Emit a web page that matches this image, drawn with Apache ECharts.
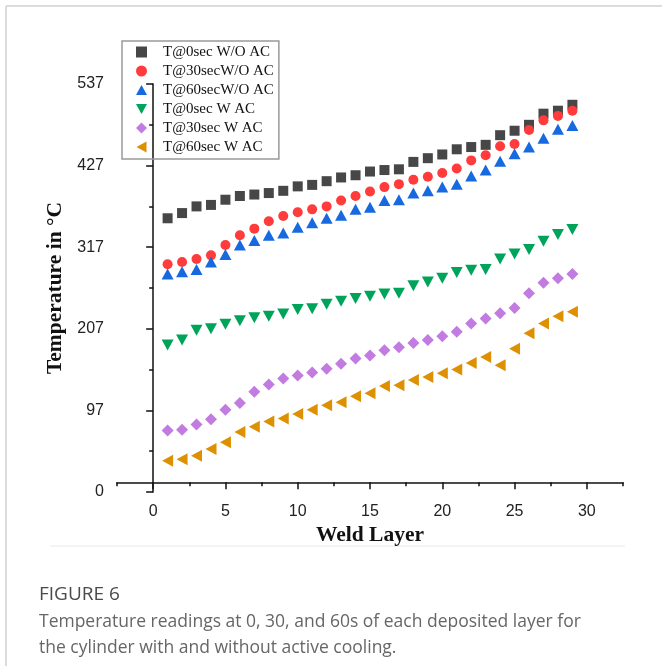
<!DOCTYPE html>
<html>
<head>
<meta charset="utf-8">
<script src="https://cdn.jsdelivr.net/npm/echarts@6/dist/echarts.min.js"></script>
<style>
  html, body { margin: 0; padding: 0; background: #fff; }
  #chart { width: 662px; height: 666px; }
</style>
</head>
<body>
<div id="chart"></div>
<script>
// weld layers on the x axis
var layers = [1, 2, 3, 4, 5, 6, 7, 8, 9, 10, 11, 12, 13, 14, 15, 16, 17, 18, 19, 20, 21, 22, 23, 24, 25, 26, 27, 28, 29]

// temperatures
var t0NoAC = [356, 363, 372, 374, 381, 386, 388, 390, 393, 399, 401, 406, 411, 414, 419, 421, 422, 432, 437, 442, 449, 452, 455, 468, 474, 482, 497, 501, 509]
var t30NoAC = [294, 297, 301, 306, 320, 333, 342, 352, 359, 364, 368, 372, 380, 386, 392, 398, 402, 408, 412, 417, 423, 434, 441, 453, 456, 475, 488, 494, 501]
var t60NoAC = [281, 284, 287, 297, 307, 320, 326, 333, 336, 344, 350, 356, 360, 368, 371, 380, 381, 390, 393, 398, 402, 413, 421, 433, 443, 452, 464, 476, 481]
var t0AC = [185, 192, 205, 207, 213, 218, 222, 224, 227, 233, 234, 240, 244, 248, 251, 254, 255, 265, 270, 275, 283, 286, 287, 301, 308, 314, 325, 334, 341]
var t30AC = [70, 71, 78, 85, 98, 107, 122, 132, 140, 144, 148, 153, 160, 167, 171, 178, 182, 188, 192, 197, 203, 214, 221, 228, 235, 255, 269, 275, 281]
var t60AC = [29, 31, 36, 45, 54, 68, 75, 82, 86, 92, 98, 104, 108, 116, 120, 130, 131, 138, 142, 147, 152, 161, 169, 158, 180, 201, 214, 224, 230]

var seriesNames = ['T@0sec W/O AC', 'T@30secW/O AC', 'T@60secW/O AC', 'T@0sec W AC', 'T@30sec W AC', 'T@60sec W AC']

// axis ticks
var xMajor = [0, 5, 10, 15, 20, 25, 30]
var xMinor = [-2.5, 2.5, 7.5, 12.5, 17.5, 22.5, 27.5, 32.5]
var yMajor = [-13, 97, 207, 317, 427, 537]
var yTickLabels = ['0', '97', '207', '317', '427', '537']
var yMinor = [42, 152, 262, 372, 482]

var chart = echarts.init(document.getElementById('chart'))

var symbols = ['rect', 'circle', 'triangle', 'triangle', 'diamond', 'triangle']
var symbolSizes = [10, 10, [12, 11], [12, 11], [12, 12], [12, 11]]
var rotates = [0, 0, 0, 180, 0, 90]
var colors = ['#474747', '#FF3B3B', '#1769E0', '#00A35A', '#C27BE0', '#DD9000']
var dataArr = [t0NoAC, t30NoAC, t60NoAC, t0AC, t30AC, t60AC]
// legend icons as paths so they keep their aspect and turn like the marks
var legendIcons = [
  'path://M0,0L10,0L10,10L0,10Z',
  'circle',
  'path://M0,10L5.5,0L11,10Z',
  'path://M0,0L11,0L5.5,10Z',
  'path://M5.5,0L11,5.5L5.5,11L0,5.5Z',
  'path://M10,0L10,11L0,5.5Z'
]

var series = []
dataArr.map(function (item, index) {
  series.push({
    name: seriesNames[index],
    type: 'scatter',
    symbol: symbols[index],
    symbolSize: symbolSizes[index],
    symbolRotate: rotates[index],
    itemStyle: { color: colors[index], opacity: 1 },
    data: layers.map(function (x, i) { return [x, item[i]] })
  })
})

var labelFont = { color: '#222', fontFamily: 'Liberation Sans', fontSize: 16 }
var axisLineStyle = { color: '#111', width: 1.5 }

var option = {
  animation: false,
  backgroundColor: '#fff',
  grid: { left: 117, right: 39, top: 84, bottom: 174, containLabel: false, outerBoundsMode: 'none' },
  legend: {
    orient: 'vertical',
    left: 122,
    top: 41,
    padding: [3, 5, 4, 14],
    itemWidth: 11,
    itemHeight: 11,
    itemGap: 3,
    symbolKeepAspect: true,
    borderColor: '#999',
    borderWidth: 1.5,
    data: seriesNames.map(function (n, i) {
      return { name: n, icon: legendIcons[i] }
    }),
    textStyle: { fontFamily: 'Liberation Serif', fontSize: 15, color: '#111', lineHeight: 16, padding: [0, 0, 0, 11] }
  },
  xAxis: [
    {
      type: 'value',
      min: -2.5,
      max: 32.5,
      name: 'Weld Layer',
      nameLocation: 'middle',
      nameGap: 30,
      nameTextStyle: { fontFamily: 'Liberation Serif', fontWeight: 'bold', fontSize: 21.5, color: '#111' },
      axisLine: { lineStyle: axisLineStyle },
      axisTick: { show: true, customValues: xMajor, length: 7, lineStyle: { color: '#111', width: 1.5 } },
      axisLabel: Object.assign({ customValues: xMajor, margin: 12 }, labelFont),
      splitLine: { show: false }
    },
    {
      type: 'value',
      position: 'bottom',
      min: -2.5,
      max: 32.5,
      axisLine: { show: false },
      axisTick: { show: true, customValues: xMinor, length: 4, lineStyle: { color: '#111', width: 1.5 } },
      axisLabel: { show: false },
      splitLine: { show: false }
    }
  ],
  yAxis: [
    {
      type: 'value',
      min: -13,
      max: 537,
      name: 'Temperature in °C',
      nameLocation: 'middle',
      nameGap: 44,
      nameTextStyle: { fontFamily: 'Liberation Serif', fontWeight: 'bold', fontSize: 21.5, color: '#111' },
      axisLine: { show: true, lineStyle: axisLineStyle },
      axisTick: { show: true, customValues: yMajor, length: 7, lineStyle: { color: '#111', width: 1.5 } },
      axisLabel: Object.assign({
        customValues: yMajor,
        margin: 13,
        formatter: function (v) {
          var i = yMajor.indexOf(v)
          return i >= 0 ? yTickLabels[i] : ''
        }
      }, labelFont),
      splitLine: { show: false }
    },
    {
      type: 'value',
      position: 'left',
      min: -13,
      max: 537,
      axisLine: { show: false },
      axisTick: { show: true, customValues: yMinor, length: 4, lineStyle: { color: '#111', width: 1.5 } },
      axisLabel: { show: false },
      splitLine: { show: false }
    }
  ],
  graphic: [
    // card border, top and left
    { type: 'line', shape: { x1: 6, y1: 6, x2: 662, y2: 6 }, style: { stroke: '#dcdcdc', lineWidth: 2 } },
    { type: 'line', shape: { x1: 6, y1: 6, x2: 6, y2: 666 }, style: { stroke: '#dcdcdc', lineWidth: 2 } },
    // faint bottom edge of the figure image
    { type: 'line', shape: { x1: 50, y1: 546, x2: 625, y2: 546 }, style: { stroke: '#f0f0f0', lineWidth: 1.5 } },
    {
      type: 'text', left: 39, top: 585,
      style: { text: 'FIGURE 6', fontFamily: 'Open Sans', fontSize: 19, fill: '#4a4a4a' }
    },
    {
      type: 'text', left: 39, top: 609,
      style: {
        text: 'Temperature readings at 0, 30, and 60s of each deposited layer for\nthe cylinder with and without active cooling.',
        fontFamily: 'Open Sans', fontSize: 17.5, lineHeight: 26, fill: '#666'
      }
    }
  ],
  series: series
}

chart.setOption(option)
</script>
</body>
</html>
